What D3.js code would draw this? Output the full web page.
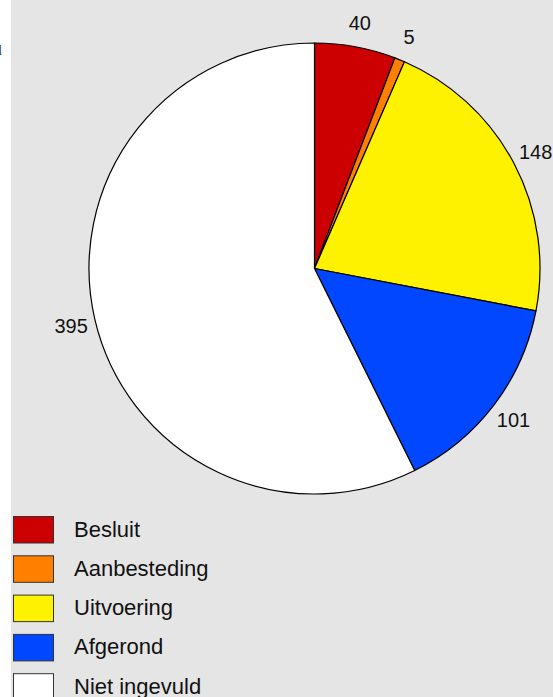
<!DOCTYPE html>
<html><head><meta charset="utf-8">
<script src="https://cdn.jsdelivr.net/npm/d3@7"></script>
<style>
html,body{margin:0;padding:0;background:#fff;}
svg{display:block;}
</style></head>
<body>
<script>
const categories = ["Besluit","Aanbesteding","Uitvoering","Afgerond","Niet ingevuld"];
const values = [40,5,148,101,395];
const colors = ["#cc0000","#ff7f00","#fff200","#0047ff","#ffffff"];

const W = 553, H = 697;
const svg = d3.select("body").append("svg").attr("width",W).attr("height",H);

svg.append("rect").attr("x",11).attr("y",0).attr("width",W-11).attr("height",H).attr("fill","#e5e5e5");
svg.append("text").attr("x",-2).attr("y",55).attr("font-family","Liberation Serif, DejaVu Serif, serif")
  .attr("font-size",15).attr("fill","#333").text("l");

const cx = 314.5, cy = 268.5, R = 225.5;
const g = svg.append("g").attr("transform",`translate(${cx},${cy})`);

const pie = d3.pie().sort(null).value(d=>d.v);
const data = pie(categories.map((c,i)=>({c, v: values[i], col: colors[i]})));
const arc = d3.arc().innerRadius(0).outerRadius(R);
const labelArc = d3.arc().innerRadius(250).outerRadius(250);

g.selectAll("path.slice").data(data).join("path")
  .attr("class","slice")
  .attr("d",arc)
  .attr("fill",d=>d.data.col)
  .attr("stroke","#000")
  .attr("stroke-width",1.2)
  .attr("stroke-linejoin","round");

g.selectAll("text.lbl").data(data).join("text")
  .attr("class","lbl")
  .attr("transform",d=>`translate(${labelArc.centroid(d)})`)
  .attr("text-anchor","middle")
  .attr("dy","0.36em")
  .attr("font-family","Liberation Sans, Arial, sans-serif")
  .attr("font-size",20)
  .attr("fill","#111")
  .text(d=>d.data.v);

const leg = svg.append("g");
const legY = d3.scaleBand().domain(categories).range([516, 516+39.3*5]).paddingInner(0);
categories.forEach((c,i)=>{
  const y = legY(c);
  leg.append("rect").attr("x",13.5).attr("y",y+0.5).attr("width",40).attr("height",26.5)
    .attr("fill",colors[i]).attr("stroke","#333").attr("stroke-width",1);
  leg.append("text").attr("x",74).attr("y",y+20.5)
    .attr("font-family","Liberation Sans, Arial, sans-serif").attr("font-size",22)
    .attr("fill","#111").text(c);
});
</script>
</body></html>
